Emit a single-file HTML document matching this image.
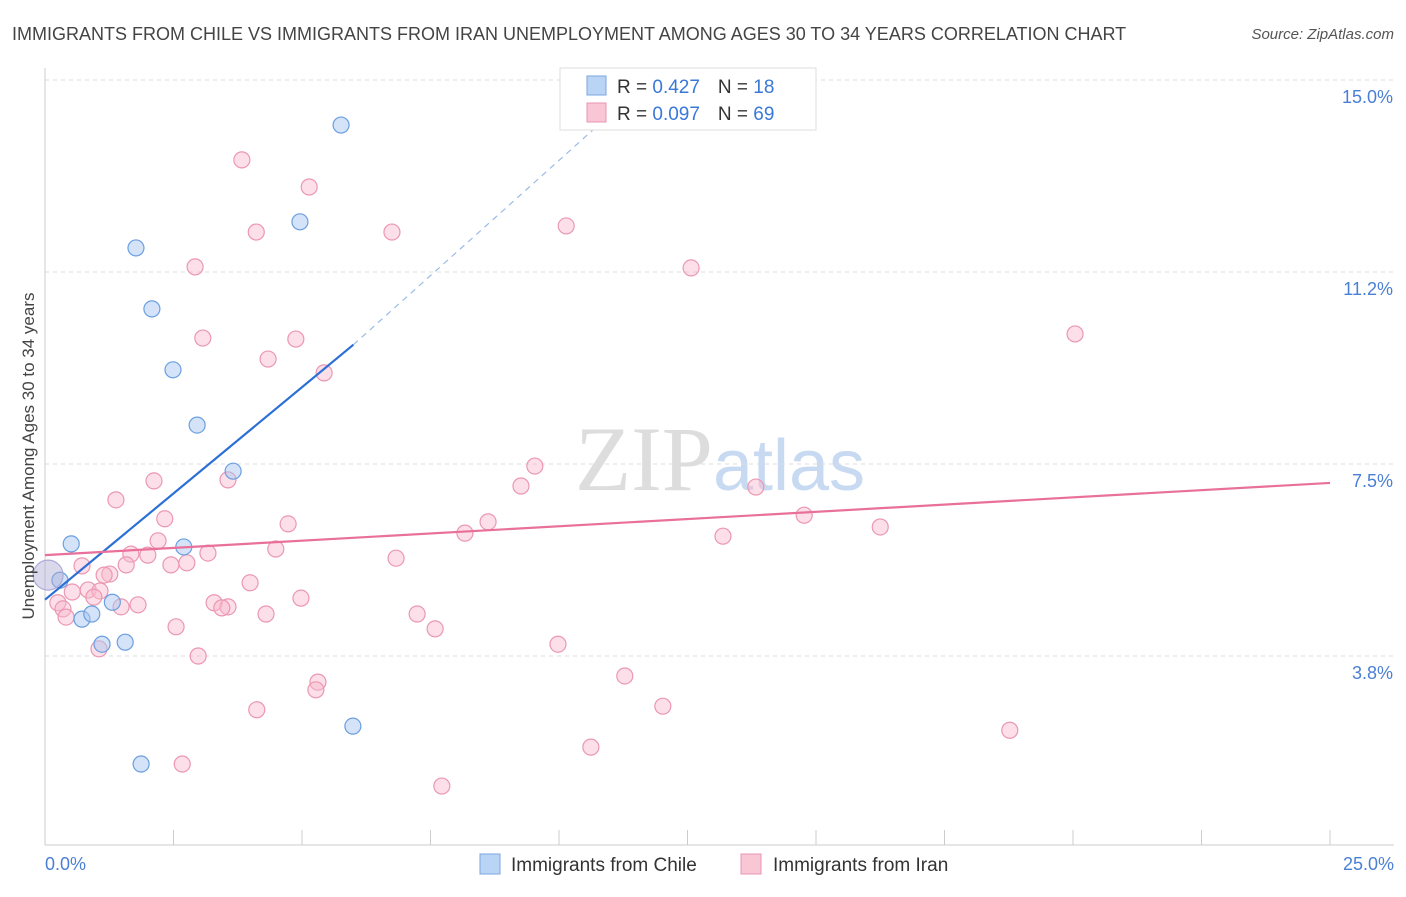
<!DOCTYPE html>
<html><head><meta charset="utf-8"><style>
body{margin:0;background:#fff;font-family:"Liberation Sans",sans-serif;}
</style></head><body>
<svg id="chart" width="1406" height="892" xmlns="http://www.w3.org/2000/svg" font-family="Liberation Sans, sans-serif">
<text x="12" y="40" font-size="18" fill="#444">IMMIGRANTS FROM CHILE VS IMMIGRANTS FROM IRAN UNEMPLOYMENT AMONG AGES 30 TO 34 YEARS CORRELATION CHART</text>
<text x="1394" y="39" font-size="15" fill="#555" font-style="italic" text-anchor="end">Source: ZipAtlas.com</text>
<text x="720" y="490" font-size="92" text-anchor="middle" fill="#ddd" font-family="Liberation Serif, serif">ZIP<tspan fill="#c8daf2" font-family="Liberation Sans, sans-serif" font-size="72">atlas</tspan></text>
<g id="grid"></g><g id="axes"></g><g id="marks"></g>
<text transform="translate(34,456) rotate(-90)" font-size="17" fill="#444" text-anchor="middle">Unemployment Among Ages 30 to 34 years</text>
<text x="45" y="870" font-size="18" fill="#4a7fd6">0.0%</text>
<text x="1394" y="870" font-size="18" fill="#4a7fd6" text-anchor="end">25.0%</text>
<g>
<rect x="560" y="68" width="256" height="62" fill="#fff" stroke="#ddd"/>
<rect x="587" y="76" width="19" height="19" fill="#b9d4f5" stroke="#7aa6e0"/>
<rect x="587" y="103" width="19" height="19" fill="#f9c6d6" stroke="#e896b0"/>
<text x="617" y="93" font-size="19" fill="#333">R = <tspan fill="#3a78d8">0.427</tspan><tspan dx="18">N = </tspan><tspan fill="#3a78d8">18</tspan></text>
<text x="617" y="120" font-size="19" fill="#333">R = <tspan fill="#3a78d8">0.097</tspan><tspan dx="18">N = </tspan><tspan fill="#3a78d8">69</tspan></text>
</g>
<g>
<rect x="480" y="854" width="20" height="20" fill="#b9d4f5" stroke="#7aa6e0"/>
<text x="511" y="871" font-size="19" fill="#333">Immigrants from Chile</text>
<rect x="741" y="854" width="20" height="20" fill="#f9c6d6" stroke="#e896b0"/>
<text x="773" y="871" font-size="19" fill="#333">Immigrants from Iran</text>
</g>
</svg>
<script>
const yTicks=[15,11.25,7.5,3.75];
const yTickLabels=["15.0%","11.2%","7.5%","3.8%"];
const xTicks=[0,2.5,5,7.5,10,12.5,15,17.5,20,22.5,25];
const chileX=[0.51,0.29,0.72,0.91,1.31,1.11,1.56,1.87,1.77,2.08,2.49,2.96,2.70,3.66,4.96,5.76,5.99];
const chileY=[5.94,5.23,4.47,4.57,4.80,3.98,4.02,1.64,11.72,10.53,9.34,8.26,5.88,7.36,12.23,14.12,2.38];
const iranX=[3.83,5.14,4.11,6.75,10.14,2.92,12.57,3.07,4.88,4.34,5.43,20.04,9.53,9.26,2.12,3.56,1.38,13.83,2.33,4.73,8.62,8.17,14.77,16.25,13.19,2.20,3.17,1.67,2.00,4.49,6.83,0.72,1.58,2.45,2.76,1.26,1.15,3.99,0.84,0.53,1.07,0.95,4.98,1.81,1.48,3.29,3.56,3.44,0.25,0.35,0.41,4.30,7.24,7.59,2.55,9.98,1.05,2.98,11.28,5.31,5.27,4.12,12.02,18.77,10.62,2.67,7.72];
const iranY=[13.44,12.91,12.03,12.03,12.15,11.35,11.33,9.96,9.94,9.55,9.28,10.04,7.46,7.07,7.17,7.19,6.80,7.05,6.43,6.33,6.37,6.15,6.50,6.27,6.09,6.00,5.76,5.74,5.72,5.84,5.66,5.51,5.53,5.53,5.57,5.35,5.33,5.18,5.04,5.00,5.02,4.90,4.88,4.75,4.71,4.79,4.71,4.69,4.79,4.67,4.51,4.57,4.57,4.28,4.32,3.98,3.89,3.75,3.36,3.24,3.09,2.70,2.77,2.30,1.97,1.64,1.21];
const chileTrend=[[0,4.85],[6,9.83],[11.3,14.6]];
const iranTrend=[[0,5.72],[25,7.13]];
const bigPoint=[0.06,5.33];
const NS="http://www.w3.org/2000/svg";
const sx=v=>45+v*51.4, sy=v=>848-v*51.2;
function mk(t,a,p){const e=document.createElementNS(NS,t);for(const k in a)e.setAttribute(k,a[k]);document.getElementById(p).appendChild(e);return e;}
yTicks.forEach((v,i)=>{
 const l=mk('line',{x1:45,x2:1394,y1:sy(v),y2:sy(v),stroke:'#ddd','stroke-dasharray':'4,4'},'grid');
 
 
 const t=mk('text',{x:1393,y:sy(v)+23,'font-size':18,fill:'#4a7fd6','text-anchor':'end'},'grid');
 t.textContent=yTickLabels[i];
 
 
});
const ya=mk('line',{x1:45,x2:45,y1:68,y2:845,stroke:'#ccc'},'axes');


const xa=mk('line',{x1:45,x2:1394,y1:845,y2:845,stroke:'#ccc'},'axes');


xTicks.forEach(v=>{
 const t=mk('line',{x1:sx(v),x2:sx(v),y1:830,y2:845,stroke:'#ccc'},'axes');
 
 
});
function dot(x,y,r,f,s,n){const c=mk('circle',{cx:sx(x),cy:sy(y),r:r,fill:f,stroke:s,'stroke-width':1.2},'marks');
 
 }
iranX.forEach((x,i)=>dot(x,iranY[i],8,'rgba(248,185,205,0.45)','#eb97b3','iran-point'));
chileX.forEach((x,i)=>dot(x,chileY[i],8,'rgba(170,200,240,0.5)','#6b9fe0','chile-point'));
dot(bigPoint[0],bigPoint[1],15,'rgba(170,170,210,0.45)','#b0a8d8','chile-point-large');
const c1=mk('line',{x1:sx(chileTrend[0][0]),y1:sy(chileTrend[0][1]),x2:sx(chileTrend[1][0]),y2:sy(chileTrend[1][1]),stroke:'#2b6fd6','stroke-width':2.2},'marks');


const c2=mk('line',{x1:sx(chileTrend[1][0]),y1:sy(chileTrend[1][1]),x2:sx(chileTrend[2][0]),y2:sy(chileTrend[2][1]),stroke:'#9bbbe8','stroke-width':1.2,'stroke-dasharray':'6,5'},'marks');


const i1=mk('line',{x1:sx(iranTrend[0][0]),y1:sy(iranTrend[0][1]),x2:sx(iranTrend[1][0]),y2:sy(iranTrend[1][1]),stroke:'#e8709a','stroke-width':2.2},'marks');


</script>
</body></html>
